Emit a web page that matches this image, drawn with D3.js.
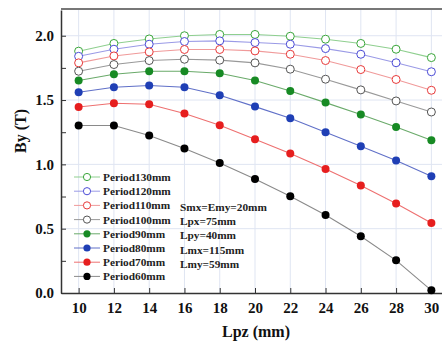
<!DOCTYPE html>
<meta charset="utf-8">
<script src="https://d3js.org/d3.v7.min.js"></script>
<style>
  body { margin: 0; background: #fff; }
  text { font-family: "Liberation Serif", "Times New Roman", serif; font-weight: bold; }
</style>
<div id="my_dataviz"></div>
<script>

  // data
  var lpz = [10, 12, 14, 16, 18, 20, 22, 24, 26, 28, 30];
  var names = ["Period130mm", "Period120mm", "Period110mm", "Period100mm",
    "Period90mm", "Period80mm", "Period70mm", "Period60mm"];
  var p130 = [1.88, 1.94, 1.975, 2.0, 2.01, 2.01, 1.996, 1.973, 1.94, 1.895, 1.83];
  var p120 = [1.84, 1.895, 1.934, 1.955, 1.96, 1.947, 1.934, 1.90, 1.856, 1.79, 1.72];
  var p110 = [1.789, 1.843, 1.874, 1.893, 1.893, 1.882, 1.856, 1.807, 1.737, 1.66, 1.576];
  var p100 = [1.724, 1.776, 1.807, 1.817, 1.81, 1.789, 1.74, 1.662, 1.579, 1.493, 1.407];
  var p90 = [1.652, 1.70, 1.724, 1.724, 1.708, 1.652, 1.571, 1.48, 1.387, 1.291, 1.187];
  var p80 = [1.561, 1.60, 1.613, 1.60, 1.537, 1.449, 1.358, 1.25, 1.141, 1.03, 0.907];
  var p70 = [1.446, 1.475, 1.467, 1.395, 1.304, 1.195, 1.084, 0.964, 0.835, 0.695, 0.544];
  var p60 = [1.302, 1.302, 1.224, 1.123, 1.011, 0.886, 0.752, 0.607, 0.441, 0.254, 0.021];
  var values = [p130, p120, p110, p100, p90, p80, p70, p60];
  var notes = ["Smx=Emy=20mm", "Lpx=75mm", "Lpy=40mm", "Lmx=115mm", "Lmy=59mm"];
  var yTicks = [0.0, 0.5, 1.0, 1.5, 2.0];

  // styling per series
  var colors = ["#3aa63a", "#4b4bd6", "#e83a3a", "#555555", "#178a24", "#1f3fb5", "#e61e1e", "#000000"];
  var lineColors = ["#8fcf8f", "#9a9ae6", "#f09a9a", "#999999", "#6aaa6a", "#6070c8", "#ee7070", "#8a8a8a"];
  var open = [true, true, true, true, false, false, false, false];

  var W = 442, H = 343;
  var svg = d3.select("#my_dataviz").append("svg")
    .attr("width", W).attr("height", H);

  var x = d3.scaleLinear().domain([9, 31]).range([61, 449]);
  var y = d3.scaleLinear().domain([0, 2.2]).range([293, 10]);

  // grid
  svg.append("g").selectAll("line.v").data(lpz).enter().append("line")
    .attr("x1", d => x(d)).attr("x2", d => x(d))
    .attr("y1", y(2.2)).attr("y2", y(0))
    .attr("stroke", "#dfe5f2").attr("stroke-width", 1);
  svg.append("g").selectAll("line.h").data(yTicks.slice(1)).enter().append("line")
    .attr("x1", x(9)).attr("x2", W)
    .attr("y1", d => y(d)).attr("y2", d => y(d))
    .attr("stroke", "#dfe5f2").attr("stroke-width", 1);

  // top frame
  svg.append("line").attr("x1", x(9)).attr("x2", W).attr("y1", 9).attr("y2", 9)
    .attr("stroke", "#777").attr("stroke-width", 2);

  // axes
  var xAxis = svg.append("g").attr("transform", "translate(0," + y(0) + ")")
    .call(d3.axisBottom(x).tickValues(lpz).tickSizeInner(-5).tickSizeOuter(0).tickPadding(9)
      .tickFormat(d3.format("d")));
  var yAxis = svg.append("g").attr("transform", "translate(" + x(9) + ",0)")
    .call(d3.axisLeft(y).tickValues(d3.range(0, 2.01, 0.25)).tickSizeInner(-5).tickSizeOuter(0).tickPadding(7)
      .tickFormat(d => (Math.round(d * 100) % 50 === 0) ? d3.format(".1f")(d) : ""));
  [xAxis, yAxis].forEach(function (g) {
    g.selectAll("text").style("font-size", "15px").attr("fill", "#111");
    g.selectAll("line").attr("stroke", "#333");
    g.select(".domain").attr("stroke", "#333").attr("stroke-width", 1.5);
  });

  // axis titles
  svg.append("text").attr("x", 256).attr("y", 337).attr("text-anchor", "middle")
    .style("font-size", "16px").attr("fill", "#111").text("Lpz (mm)");
  svg.append("text").attr("transform", "translate(26,131) rotate(-90)").attr("text-anchor", "middle")
    .style("font-size", "16px").attr("fill", "#111").text("By (T)");

  // series
  var line = d3.line().x((d, i) => x(lpz[i])).y(d => y(d));
  values.forEach(function (vals, k) {
    svg.append("path").datum(vals).attr("d", line)
      .attr("fill", "none").attr("stroke", lineColors[k]).attr("stroke-width", 1.1);
    svg.append("g").selectAll("circle").data(vals).enter().append("circle")
      .attr("cx", (d, i) => x(lpz[i])).attr("cy", d => y(d)).attr("r", 4)
      .attr("fill", open[k] ? "#fff" : colors[k])
      .attr("stroke", colors[k]).attr("stroke-width", open[k] ? 1 : 0);
  });

  // legend
  var leg = svg.append("g");
  names.forEach(function (n, k) {
    var ly = 177 + k * 14.2;
    leg.append("line").attr("x1", 74).attr("x2", 100).attr("y1", ly).attr("y2", ly)
      .attr("stroke", lineColors[k]).attr("stroke-width", 1);
    leg.append("circle").attr("cx", 87).attr("cy", ly).attr("r", 3.6)
      .attr("fill", open[k] ? "#fff" : colors[k])
      .attr("stroke", colors[k]).attr("stroke-width", open[k] ? 1 : 0);
    leg.append("text").attr("x", 103).attr("y", ly + 4)
      .style("font-size", "11.3px").attr("fill", "#222").text(n);
  });

  // parameter notes
  notes.forEach(function (t, k) {
    svg.append("text").attr("x", 180).attr("y", 207 + k * 14.2 + 4)
      .style("font-size", "11.3px").attr("fill", "#222").text(t);
  });

</script>
